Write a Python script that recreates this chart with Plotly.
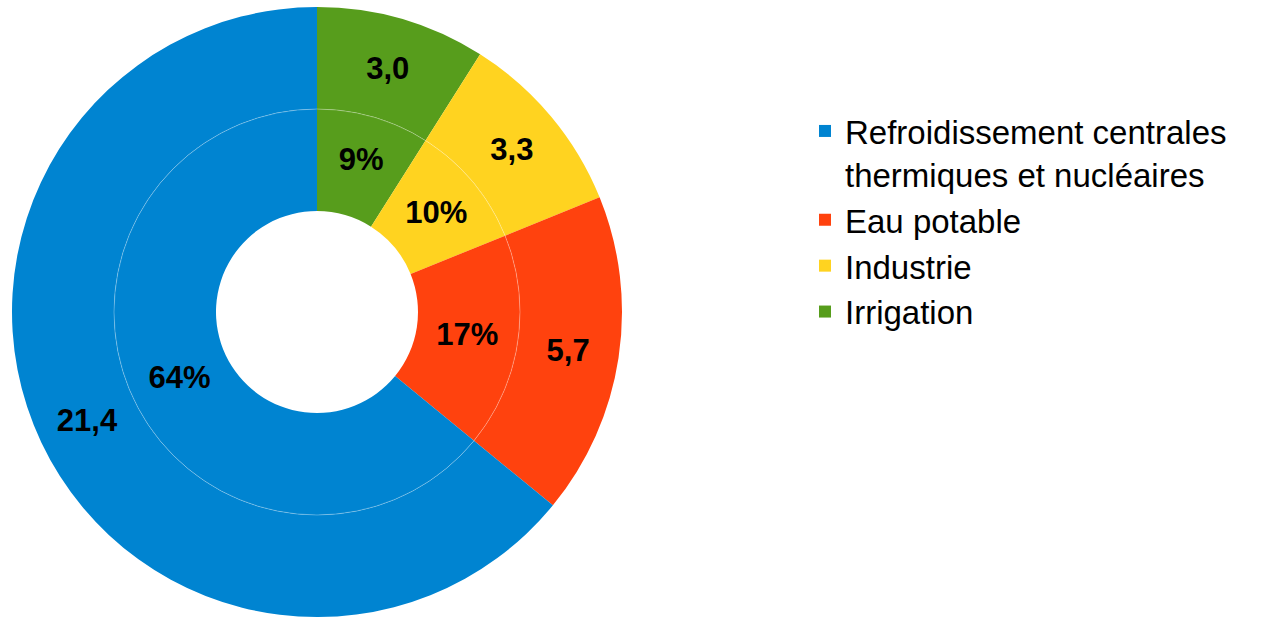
import plotly.graph_objects as go

# data (legend order)
categories = ["Refroidissement centrales<br>thermiques et nucléaires",
              "Eau potable", "Industrie", "Irrigation"]
volumes = [21.4, 5.7, 3.3, 3.0]
colors = ["#0084d1", "#ff420e", "#ffd320", "#579d1c"]

W, H = 1265, 619
cx, cy = 317, 312
r_out, r_mid, r_hole = 305, 203, 101


def dom(r):
    return dict(x=[(cx - r) / W, (cx + r) / W],
                y=[1 - (cy + r) / H, 1 - (cy - r) / H])


label_font = dict(family="Liberation Sans", size=31, color="black")

# slices run clockwise from 12 o'clock starting with the last category
labels_cw = categories[::-1]
values_cw = volumes[::-1]
colors_cw = colors[::-1]

fig = go.Figure()

# outer ring: values
fig.add_trace(go.Pie(
    labels=labels_cw, values=values_cw, sort=False, direction="clockwise",
    rotation=0, hole=r_mid / r_out, domain=dom(r_out),
    marker=dict(colors=colors_cw, line=dict(width=0)),
    texttemplate="<b>%{value:.1f}</b>", textposition="inside",
    insidetextorientation="horizontal", textfont=label_font,
    hoverinfo="label+value", showlegend=True,
))

# inner ring: percentages
fig.add_trace(go.Pie(
    labels=labels_cw, values=values_cw, sort=False, direction="clockwise",
    rotation=0, hole=r_hole / r_mid, domain=dom(r_mid),
    marker=dict(colors=colors_cw, line=dict(width=0)),
    texttemplate="<b>%{percent:.0%}</b>", textposition="inside",
    insidetextorientation="horizontal", textfont=label_font,
    hoverinfo="label+percent", showlegend=False,
))

# faint separator between the rings
fig.add_shape(type="circle", xref="paper", yref="paper",
              x0=(cx - r_mid) / W, x1=(cx + r_mid) / W,
              y0=1 - (cy + r_mid) / H, y1=1 - (cy - r_mid) / H,
              line=dict(color="rgba(255,255,255,0.3)", width=1))

fig.update_layout(
    width=W, height=H,
    margin=dict(l=0, r=0, t=0, b=0),
    paper_bgcolor="white",
    separators=", ",
    font=dict(family="Liberation Sans", color="black"),
    uniformtext=dict(minsize=31, mode="show"),
    legend=dict(x=805 / W, y=1 - 103 / H, xanchor="left", yanchor="top",
                valign="top", traceorder="reversed",
                font=dict(size=33, family="Liberation Sans"),
                itemwidth=30, tracegroupgap=0),
)

fig.write_html("out.html", config={"displayModeBar": False},
               post_script="document.body.style.margin='0';")
